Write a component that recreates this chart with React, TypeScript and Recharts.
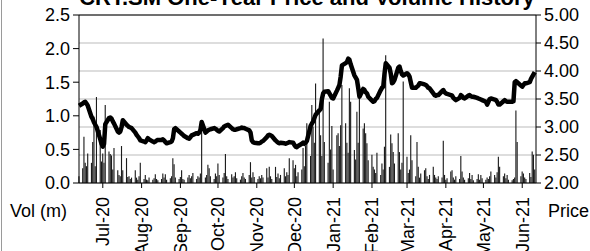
import { ComposedChart, Bar, Line, XAxis, YAxis, CartesianGrid, ReferenceLine } from 'recharts'

const FONT = '"Liberation Sans", Arial, sans-serif'

const monthLabels = ['Jul-20', 'Aug-20', 'Sep-20', 'Oct-20', 'Nov-20', 'Dec-20', 'Jan-21', 'Feb-21', 'Mar-21', 'Apr-21', 'May-21', 'Jun-21']
const volTicks = [0, 0.5, 1, 1.5, 2, 2.5]
const priceTicks = [2, 2.5, 3, 3.5, 4, 4.5, 5]

// daily closes, one per trading day from 12 Jun 2020
const price = [
  3.38,
  3.42, 3.44, 3.45, 3.42, 3.38,
  3.18, 3.14, 3.08, 3.04, 3.0,
  2.78, 2.7, 2.65, 2.7, 3.05,
  3.16, 3.17, 3.15, 3.1, 3.06,
  2.92, 2.9, 2.92, 3.0, 3.12,
  3.04, 3.02, 3.0, 2.99, 2.98,
  2.9, 2.86, 2.83, 2.8, 2.76,
  2.74, 2.73, 2.76, 2.8, 2.78,
  2.74, 2.73, 2.74, 2.76, 2.77,
  2.77, 2.78, 2.76, 2.73, 2.71,
  2.73, 2.74, 2.8, 2.96, 2.98,
  2.92, 2.9, 2.88, 2.86, 2.84,
  2.8, 2.79, 2.82, 2.85, 2.86,
  2.89, 2.88, 2.9, 2.95, 3.09,
  2.9, 2.92, 2.94, 2.95, 2.96,
  2.98, 2.97, 2.95, 2.93, 2.92,
  2.98, 3.01, 3.02, 3.03, 3.04,
  2.98, 2.96, 2.95, 2.95, 2.96,
  2.98, 2.99, 2.98, 2.98, 2.97,
  2.94, 2.9, 2.76, 2.73, 2.72,
  2.71, 2.71, 2.72, 2.74, 2.75,
  2.82, 2.85, 2.86, 2.85, 2.84,
  2.76, 2.74, 2.72, 2.71, 2.72,
  2.71, 2.7, 2.71, 2.72, 2.73,
  2.72, 2.68, 2.65, 2.64, 2.66,
  2.7, 2.72, 2.7, 2.72, 2.75,
  3.02, 3.06, 3.1, 3.16, 3.22,
  3.3, 3.32, 3.5, 3.6, 3.63,
  3.64, 3.6, 3.56, 3.52, 3.51,
  3.65, 3.7, 3.75, 3.9, 4.1,
  4.14, 4.16, 4.22, 4.2, 4.12,
  3.92, 3.88, 3.84, 3.7, 3.54,
  3.68, 3.66, 3.62, 3.6, 3.54,
  3.47, 3.45, 3.46, 3.5, 3.52,
  3.66, 3.7, 3.72, 3.95, 4.14,
  4.06, 3.95, 3.78, 3.8, 3.84,
  4.06, 4.08, 4.0, 3.94, 3.92,
  3.96, 3.94, 3.9, 3.8, 3.7,
  3.7, 3.72, 3.74, 3.78, 3.78,
  3.76, 3.75, 3.73, 3.7, 3.69,
  3.6, 3.57, 3.56, 3.57, 3.57,
  3.64, 3.66, 3.62, 3.6, 3.59,
  3.57, 3.56, 3.52, 3.5, 3.48,
  3.52, 3.57, 3.55, 3.52, 3.51,
  3.56, 3.57, 3.55, 3.54, 3.54,
  3.52, 3.51, 3.5, 3.49, 3.48,
  3.45, 3.4, 3.45, 3.5, 3.51,
  3.49, 3.48, 3.45, 3.4, 3.4,
  3.46, 3.48, 3.46, 3.45, 3.45,
  3.45, 3.46, 3.8, 3.82, 3.8,
  3.74, 3.72, 3.75, 3.78, 3.78,
  3.8, 3.86, 3.9, 3.94, 3.98,
]

// daily volume, millions
const volume = [
  0.1,
  0.22, 0.69, 0.3, 0.25, 0.44,
  0.3, 0.61, 0.99, 0.25, 1.28,
  0.79, 0.32, 0.44, 0.3, 1.16,
  0.47, 0.43, 0.41, 0.2, 0.52,
  0.19, 0.12, 0.1, 0.55, 0.19,
  0.37, 0.09, 0.1, 0.06, 0.08,
  0.19, 0.08, 0.05, 0.1, 0.3,
  0.06, 0.12, 0.05, 0.04, 0.08,
  0.05, 0.07, 0.13, 0.06, 0.04,
  0.06, 0.14, 0.08, 0.13, 0.05,
  0.07, 0.1, 0.37, 0.28, 0.08,
  0.06, 0.09, 0.19, 0.06, 0.05,
  0.08, 0.12, 0.07, 0.1, 0.15,
  0.06, 0.1, 0.08, 0.14, 0.9,
  0.08, 0.12, 0.27, 0.22, 0.1,
  0.06, 0.14, 0.1, 0.29, 0.12,
  0.08, 0.15, 0.43, 0.1, 0.06,
  0.13, 0.08, 0.1, 0.16, 0.07,
  0.05, 0.1, 0.15, 0.08, 0.06,
  0.12, 0.31, 0.08, 0.16, 0.09,
  0.06, 0.1, 0.07, 0.12, 0.08,
  0.22, 0.08, 0.24, 0.1, 0.06,
  0.24, 0.09, 0.14, 0.07, 0.12,
  0.22, 0.1, 0.16, 0.12, 0.37,
  0.34, 0.22, 0.27, 0.1, 0.16,
  0.2, 0.52, 0.25, 0.55, 0.89,
  0.4, 1.16, 0.84, 0.6, 1.48,
  1.11, 0.71, 0.4, 2.15, 0.61,
  0.3, 1.21, 0.5, 0.85, 0.2,
  0.71, 0.74, 0.55, 0.86, 1.46,
  0.89, 0.6, 0.45, 1.41, 1.21,
  0.49, 0.35, 1.06, 0.6, 1.26,
  0.81, 0.89, 0.74, 0.59, 0.34,
  0.42, 0.24, 0.2, 0.15, 0.45,
  0.12, 0.29, 0.2, 0.54, 1.9,
  0.24, 0.72, 0.59, 0.46, 0.29,
  0.74, 0.46, 0.2, 0.3, 1.51,
  0.39, 0.15, 0.2, 0.71, 0.34,
  0.1, 0.61, 0.24, 0.08, 0.14,
  0.19, 0.22, 0.1, 0.06, 0.12,
  0.24, 0.12, 0.08, 0.06, 0.1,
  0.08, 0.63, 0.12, 0.05, 0.07,
  0.17, 0.19, 0.08, 0.05, 0.1,
  0.06, 0.4, 0.17, 0.08, 0.05,
  0.07, 0.15, 0.06, 0.12, 0.04,
  0.06, 0.13, 0.05, 0.12, 0.07,
  0.05, 0.08, 0.06, 0.1, 0.17,
  0.12, 0.08, 0.16, 0.39, 0.24,
  0.1, 0.14, 0.07, 0.12, 0.05,
  0.04, 0.06, 0.08, 1.08, 0.61,
  0.1, 0.17, 0.14, 0.08, 0.06,
  0.15, 0.09, 0.47, 0.42, 0.2,
]

const DAY = 86400000
const start = Date.UTC(2020, 5, 12)

// weekday offsets (days since start) for each trading day
const tradingDays: number[] = []
for (let d = 0; tradingDays.length < price.length; d++) {
  const wd = new Date(start + d * DAY).getUTCDay()
  if (wd !== 0 && wd !== 6) tradingDays.push(d)
}
const monthTicks = monthLabels.map((_, i) => Math.round((Date.UTC(2020, 6 + i, 1) - start) / DAY))

const data = tradingDays.map((day, i) => ({ day, vol: volume[i], price: price[i] }))

const MonthTick = (props: any) => {
  const { x, payload } = props
  const y = 197
  const label = monthLabels[monthTicks.indexOf(payload.value)]
  return (
    <text x={x} y={y} transform={`rotate(-90 ${x} ${y})`} textAnchor="end" dy="0.36em"
      fontSize={18} fontFamily={FONT} fill="#000">
      {label}
    </text>
  )
}

export default function App() {
  const tickStyle = { fontSize: 18, fill: '#000', fontFamily: FONT }
  return (
    <div style={{ position: 'absolute', left: 0, top: 0, width: 590, height: 251, overflow: 'hidden', background: '#fff' }}>
      <ComposedChart width={590} height={251} data={data} margin={{ top: 15, right: 0, bottom: 0, left: 0 }}>
        <CartesianGrid yAxisId="price" vertical={false} stroke="#d2d2d2" strokeWidth={1.5} />
        <XAxis
          dataKey="day"
          type="number"
          domain={[0, 365]}
          ticks={monthTicks}
          interval={0}
          height={68}
          tickSize={5}
          axisLine={{ stroke: '#000' }}
          tickLine={{ stroke: '#000' }}
          tick={<MonthTick />}
        />
        <YAxis
          yAxisId="vol"
          domain={[0, 2.5]}
          ticks={volTicks}
          width={79}
          tickSize={6}
          tickMargin={3}
          tickFormatter={(v: number) => v.toFixed(1)}
          axisLine={{ stroke: '#000' }}
          tickLine={{ stroke: '#000' }}
          tick={tickStyle}
        />
        <YAxis
          yAxisId="price"
          orientation="right"
          domain={[2, 5]}
          ticks={priceTicks}
          width={54}
          tickSize={5}
          tickMargin={3}
          tickFormatter={(v: number) => v.toFixed(2)}
          axisLine={{ stroke: '#000' }}
          tickLine={{ stroke: '#000' }}
          tick={tickStyle}
        />
        <ReferenceLine yAxisId="price" y={5} stroke="#000" />
        <Bar yAxisId="vol" dataKey="vol" fill="#1c1c1c" barSize={1.3} isAnimationActive={false} />
        <Line yAxisId="price" dataKey="price" type="linear" stroke="#000" strokeWidth={4.5}
          strokeLinejoin="round" dot={false} activeDot={false} isAnimationActive={false} />
      </ComposedChart>
      <svg width={590} height={251} style={{ position: 'absolute', left: 0, top: 0, pointerEvents: 'none' }}>
        <line x1={1.5} y1={0} x2={1.5} y2={251} stroke="#9a9a9a" />
        <text x={307} y={5} textAnchor="middle" fontSize={22} fontWeight="bold" fontFamily={FONT} fill="#000">
          CRT.SM One-Year Price and Volume History
        </text>
        <text x={10} y={217} fontSize={18} fontFamily={FONT} fill="#000">Vol (m)</text>
        <text x={548} y={217} fontSize={18} fontFamily={FONT} fill="#000">Price</text>
      </svg>
    </div>
  )
}
